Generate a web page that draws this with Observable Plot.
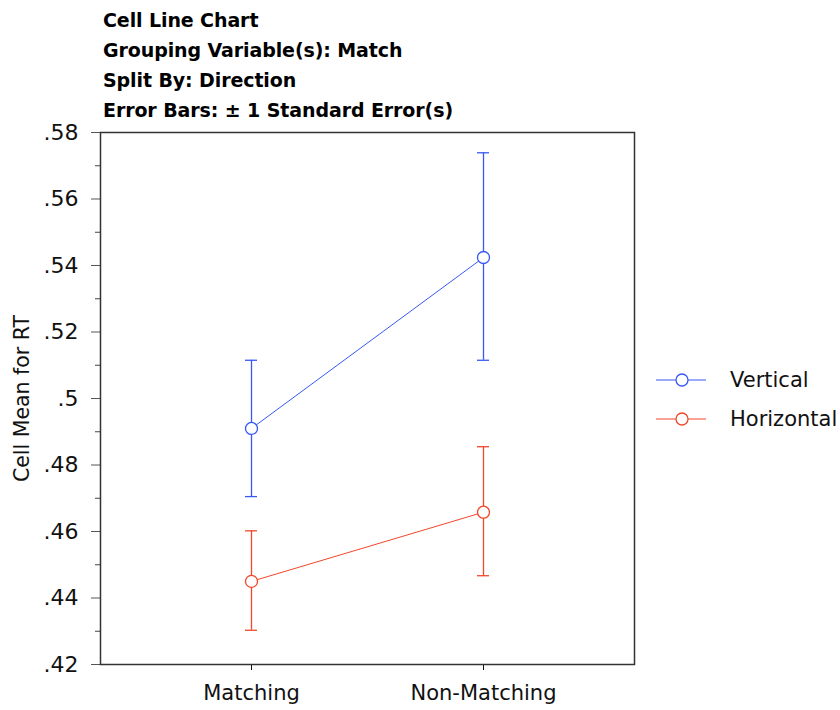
<!DOCTYPE html>
<html>
<head>
<meta charset="utf-8">
<script src="https://cdn.jsdelivr.net/npm/d3@7"></script>
<script src="https://cdn.jsdelivr.net/npm/@observablehq/plot@0.6"></script>
<style>
  body { margin: 0; background: #fff; font-family: "DejaVu Sans", sans-serif; }
  #wrap { position: relative; width: 840px; height: 710px; }
  #title { position: absolute; left: 103px; top: 5px; font-size: 19px; font-weight: bold; line-height: 30px; color: #000; letter-spacing: -0.1px; }
  #chart { position: absolute; left: 0; top: 122px; }
  #legend { position: absolute; left: 656px; top: 360px; font-size: 21px; color: #111; }
  .lg { display: flex; align-items: center; height: 39px; }
  .lg svg { margin-right: 24px; }
</style>
</head>
<body>
<div id="wrap">
  <div id="title"></div>
  <div id="chart"></div>
  <div id="legend"></div>
</div>
<script>
// ---- data ----
const titleLines = ["Cell Line Chart", "Grouping Variable(s): Match", "Split By: Direction", "Error Bars: ± 1 Standard Error(s)"];
const categories = ["Matching", "Non-Matching"];
const series = ["Vertical", "Horizontal"];
const colors = ["#3858f5", "#f0472a"];
const verticalMean = [0.4910, 0.5424];
const verticalLow = [0.4705, 0.5115];
const verticalHigh = [0.5115, 0.5739];
const horizontalMean = [0.4450, 0.4658];
const horizontalLow = [0.4303, 0.4467];
const horizontalHigh = [0.4602, 0.4855];
const yTicks = [0.42, 0.44, 0.46, 0.48, 0.50, 0.52, 0.54, 0.56, 0.58];
const yMinorTicks = [0.43, 0.45, 0.47, 0.49, 0.51, 0.53, 0.55, 0.57];
const yLabel = "Cell Mean for RT";

// ---- table ----
const rows = [];
categories.forEach((c, i) => {
  rows.push({series: "Vertical", cat: c, mean: verticalMean[i], lo: verticalLow[i], hi: verticalHigh[i]});
  rows.push({series: "Horizontal", cat: c, mean: horizontalMean[i], lo: horizontalLow[i], hi: horizontalHigh[i]});
});

document.getElementById("title").innerHTML = titleLines.map(t => `<div>${t}</div>`).join("");

const fmt = d => d3.format(".2~f")(d).replace(/^0/, "");
const font = "DejaVu Sans, sans-serif";

const chart = Plot.plot({
  width: 840,
  height: 588,
  marginTop: 10,
  marginBottom: 46,
  marginLeft: 100,
  marginRight: 206,
  style: {fontFamily: font, fontSize: "21px", color: "#111", background: "white", overflow: "visible"},
  x: {type: "point", domain: categories, padding: 0.6466},
  y: {domain: [0.42, 0.58]},
  color: {domain: series, range: colors},
  marks: [
    Plot.axisY({ticks: yMinorTicks, tickSize: 5, tickFormat: null, text: null, label: null, stroke: "#444"}),
    Plot.axisY({ticks: yTicks, tickSize: 9, tickPadding: 13, tickFormat: fmt, label: null, stroke: "#555", fontSize: 22}),
    Plot.axisX({tickSize: 6, tickPadding: 15, label: null, fontSize: 21}),
    Plot.text([yLabel], {frameAnchor: "left", textAnchor: "middle", rotate: -90, dx: -78, fontSize: 20.5, fill: "#111"}),
    Plot.ruleX(rows, {x: "cat", y1: "lo", y2: "hi", stroke: "series", strokeWidth: 1.3}),
    Plot.ruleY(rows, {x1: "cat", x2: "cat", y: "lo", stroke: "series", insetLeft: -6, insetRight: -6, strokeWidth: 1.3}),
    Plot.ruleY(rows, {x1: "cat", x2: "cat", y: "hi", stroke: "series", insetLeft: -6, insetRight: -6, strokeWidth: 1.3}),
    Plot.line(rows, {x: "cat", y: "mean", z: "series", stroke: "series", strokeWidth: 1}),
    Plot.dot(rows, {x: "cat", y: "mean", stroke: "series", fill: "white", r: 6, strokeWidth: 1.3}),
    Plot.frame({stroke: "#333", strokeWidth: 1.5})
  ]
});
document.getElementById("chart").appendChild(chart);

// ---- legend ----
const legend = document.getElementById("legend");
series.forEach((s, i) => {
  const row = document.createElement("div");
  row.className = "lg";
  row.innerHTML = `<svg width="50" height="16"><line x1="0" x2="50" y1="8" y2="8" stroke="${colors[i]}" stroke-width="1"/><circle cx="26" cy="8" r="6" fill="white" stroke="${colors[i]}" stroke-width="1.3"/></svg><span>${s}</span>`;
  legend.appendChild(row);
});
</script>
</body>
</html>
